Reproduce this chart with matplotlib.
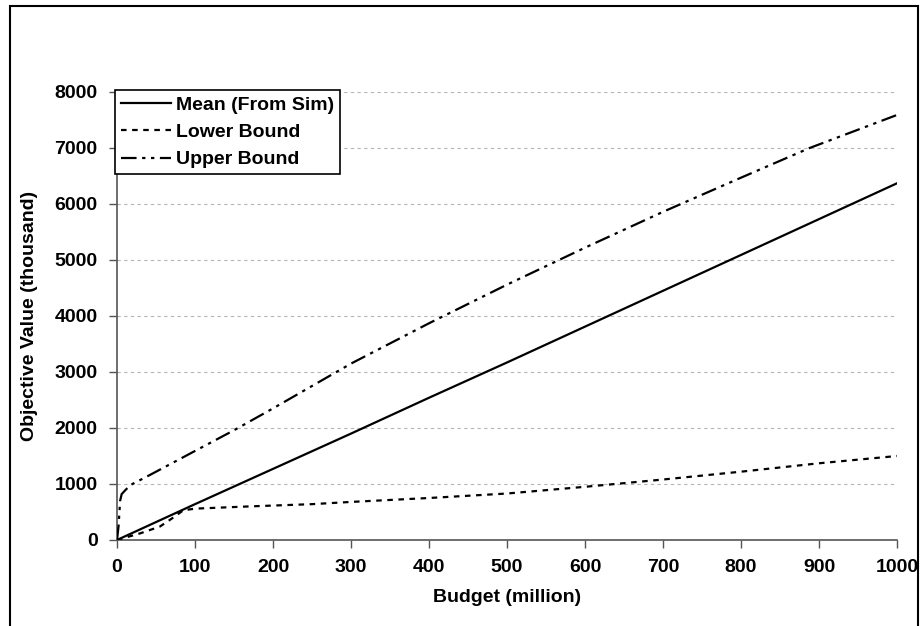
import matplotlib
matplotlib.use("Agg")
import matplotlib.pyplot as plt
from matplotlib.patches import Rectangle

plt.rcParams['font.family'] = ['Liberation Sans', 'DejaVu Sans']
plt.rcParams['font.weight'] = 'bold'

# budget (million) vs objective value (thousand)
mean_x = [0, 100, 200, 300, 400, 500, 600, 700, 800, 900, 1000]
mean_y = [0, 640, 1270, 1900, 2540, 3170, 3810, 4450, 5090, 5730, 6370]

lower_x = [0, 10, 30, 55, 70, 85, 100, 170, 250, 300, 400, 500, 600, 700, 800, 900, 1000]
lower_y = [0, 40, 120, 240, 380, 530, 560, 600, 640, 680, 750, 830, 950, 1080, 1220, 1370, 1500]

upper_x = [0, 2, 4, 6, 10, 17, 42, 100, 150, 200, 250, 300, 400, 500, 600, 700, 800, 888, 1000]
upper_y = [0, 250, 700, 820, 880, 980, 1160, 1590, 1960, 2350, 2750, 3150, 3870, 4560, 5220, 5860, 6470, 7000, 7590]

yticks = [0, 1000, 2000, 3000, 4000, 5000, 6000, 7000, 8000]
xticks = [0, 100, 200, 300, 400, 500, 600, 700, 800, 900, 1000]

fig = plt.figure(figsize=(9.22, 6.26), dpi=100)
ax = fig.add_axes([117/922, 1 - 540/626, 780/922, 448/626])

lw = 1.6
ax.plot(mean_x, mean_y, color='black', lw=lw, label='Mean (From Sim)', zorder=3)
ax.plot(lower_x, lower_y, color='black', lw=lw, dashes=(2.5, 2.5), label='Lower Bound', zorder=3)
ax.plot(upper_x, upper_y, color='black', lw=lw, dashes=(7, 2.5, 1.5, 2.5, 1.5, 2.5),
        label='Upper Bound', zorder=3)

ax.set_xlim(0, 1000)
ax.set_ylim(0, 8000)
ax.set_xticks(xticks)
ax.set_yticks(yticks)
ax.tick_params(direction='out', length=6, width=1, color='#555555', labelsize=14, pad=8)
for lab in ax.get_xticklabels() + ax.get_yticklabels():
    lab.set_fontweight('bold')

for v in yticks[1:]:
    ax.axhline(v, color='#b5b5b5', lw=0.8, dashes=(3, 3), zorder=1)

for s in ['top', 'right']:
    ax.spines[s].set_visible(False)
for s in ['left', 'bottom']:
    ax.spines[s].set_color('#555555')
    ax.spines[s].set_linewidth(1.2)

ax.set_xlabel('Budget (million)', fontsize=14, fontweight='bold', labelpad=9)
ax.set_ylabel('Objective Value (thousand)', fontsize=14, fontweight='bold', labelpad=12)

leg = ax.legend(loc='upper left', bbox_to_anchor=(-2/780, 1.004), frameon=True, fancybox=False,
                edgecolor='black', framealpha=1, handlelength=2.6, handletextpad=0.25,
                borderpad=0.3, labelspacing=0.5, borderaxespad=0,
                prop={'size': 14, 'weight': 'bold'})
leg.get_frame().set_linewidth(1.2)

# border around the whole chart area
fig.patches.append(Rectangle((10/922, -0.05), 908/922, 1.05 - 6/626, transform=fig.transFigure,
                             fill=False, edgecolor='black', lw=1.5))

fig.savefig('out.png', dpi=100)
